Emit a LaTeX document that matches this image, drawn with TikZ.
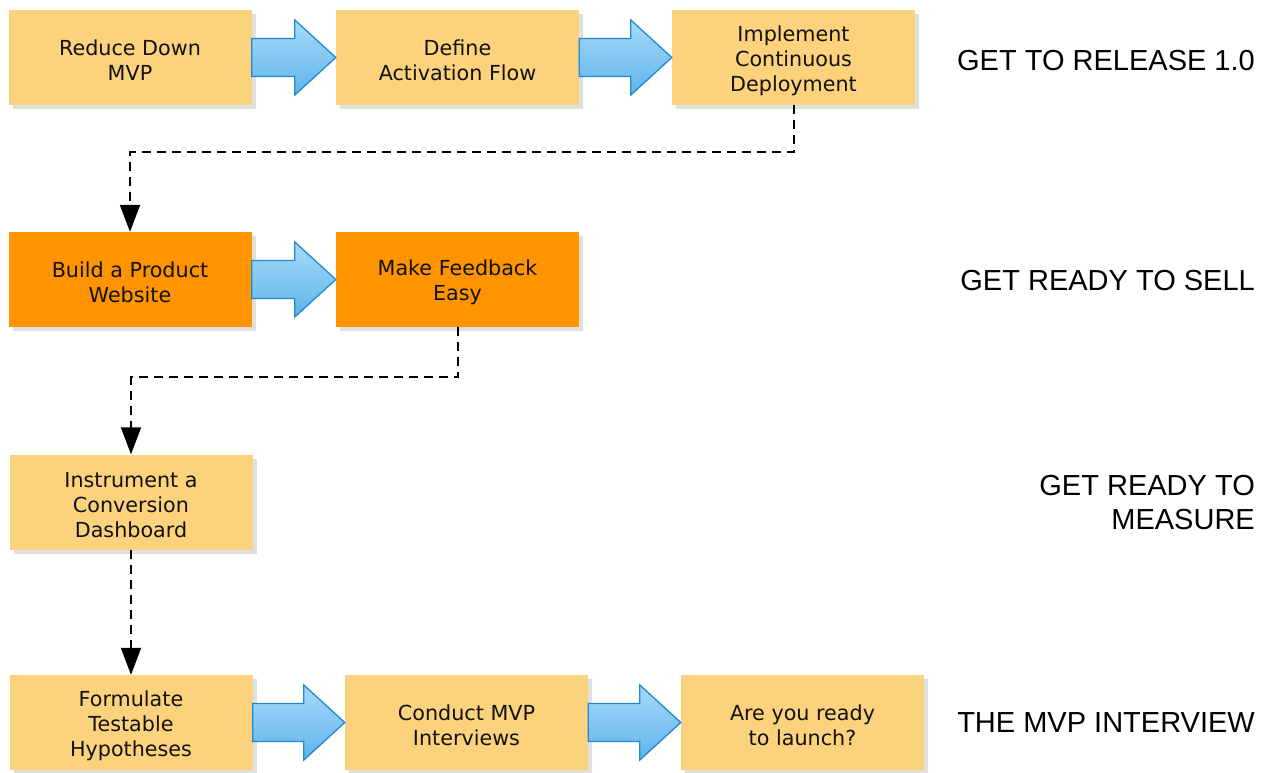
\documentclass[tikz,border=0pt]{standalone}
\usepackage{fontspec}
\newfontfamily\boxfont{DejaVu Sans}
\newfontfamily\labelfont{Liberation Sans}
\usetikzlibrary{arrows.meta,calc,shadows}
\definecolor{boxyellow}{HTML}{FDD27C}
\definecolor{boxorange}{HTML}{FF9400}
\definecolor{arrowtop}{HTML}{A8DAF9}
\definecolor{arrowbot}{HTML}{5DB4EA}
\definecolor{arrowline}{HTML}{1C8BD3}

% tall strut that sets the first line of a box a little lower
\newcommand\firstline{\rule{0pt}{22pt}}

% block arrow from the east side of #1 to the west side of #2
\newcommand\flowarrow[2]{%
  \path[blockarrow] let \p1=(#1.east), \p2=(#2.west) in
    (\x1,{\y1+19pt}) -- ({\x2-41pt},{\y1+19pt}) -- ({\x2-41pt},{\y1+37.5pt})
    -- (\x2,\y1) -- ({\x2-41pt},{\y1-37.5pt}) -- ({\x2-41pt},{\y1-19pt})
    -- (\x1,{\y1-19pt}) -- cycle;}

\begin{document}
\begin{tikzpicture}[x=1pt,y=-1pt,
  stepbox/.style={rectangle, minimum width=243pt, minimum height=95pt,
    inner sep=0pt, align=center, fill=boxyellow, text=black!93,
    font=\boxfont\fontsize{20.7}{25}\selectfont,
    drop shadow={shadow xshift=4pt,shadow yshift=-4pt,fill=black,opacity=0.12}},
  hot/.style={fill=boxorange},
  phase/.style={anchor=east, inner sep=0pt, align=right,
    font=\labelfont\fontsize{29}{34}\selectfont},
  flow/.style={draw=black, line width=2pt, dash pattern=on 9pt off 6pt,
    -{Triangle[length=27pt,width=20pt]}},
  blockarrow/.style={draw=arrowline, line width=1.3pt, top color=arrowtop,
    bottom color=arrowbot, line join=miter}
]
\fill[white] (0,0) rectangle (1271,773);
\path[use as bounding box] (0,0) rectangle (1271,773);

% release row
\node[stepbox] (b11) at (130,57.5) {\firstline Reduce Down\\MVP};
\node[stepbox] (b12) at (457.5,57.5) {\firstline Define\\Activation Flow};
\node[stepbox] (b13) at (793.5,57.5) {\firstline Implement\\Continuous\\Deployment};

% selling row
\node[stepbox,hot] (b21) at (130,279.5) {\firstline Build a Product\\Website};
\node[stepbox,hot] (b22) at (457.5,279.5) {\firstline Make Feedback\\Easy};

% measuring row
\node[stepbox] (b31) at (131,502) {\firstline Instrument a\\Conversion\\Dashboard};

% interview row
\node[stepbox] (b41) at (131,722.5) {\firstline Formulate\\Testable\\Hypotheses};
\node[stepbox] (b42) at (466.5,722.5) {\firstline Conduct MVP\\Interviews};
\node[stepbox] (b43) at (802.5,722.5) {\firstline Are you ready\\to launch?};

% block arrows within rows
\flowarrow{b11}{b12}
\flowarrow{b12}{b13}
\flowarrow{b21}{b22}
\flowarrow{b41}{b42}
\flowarrow{b42}{b43}

% dashed links between rows
\draw[flow] (b13.south) -- ++(0,47) -| (b21.north);
\draw[flow] (b22.south) -- ++(0,50) -| (b31.north);
\draw[flow] (b31.south) -- (b41.north);

% phase labels
\node[phase] (p1) at (1255,61) {GET TO RELEASE 1.0};
\node[phase] (p2) at (1255,281) {GET READY TO SELL};
\node[phase] (p3) at (1255,503) {GET READY TO\\MEASURE};
\node[phase] (p4) at (1255,723) {THE MVP INTERVIEW};
\end{tikzpicture}
\end{document}
